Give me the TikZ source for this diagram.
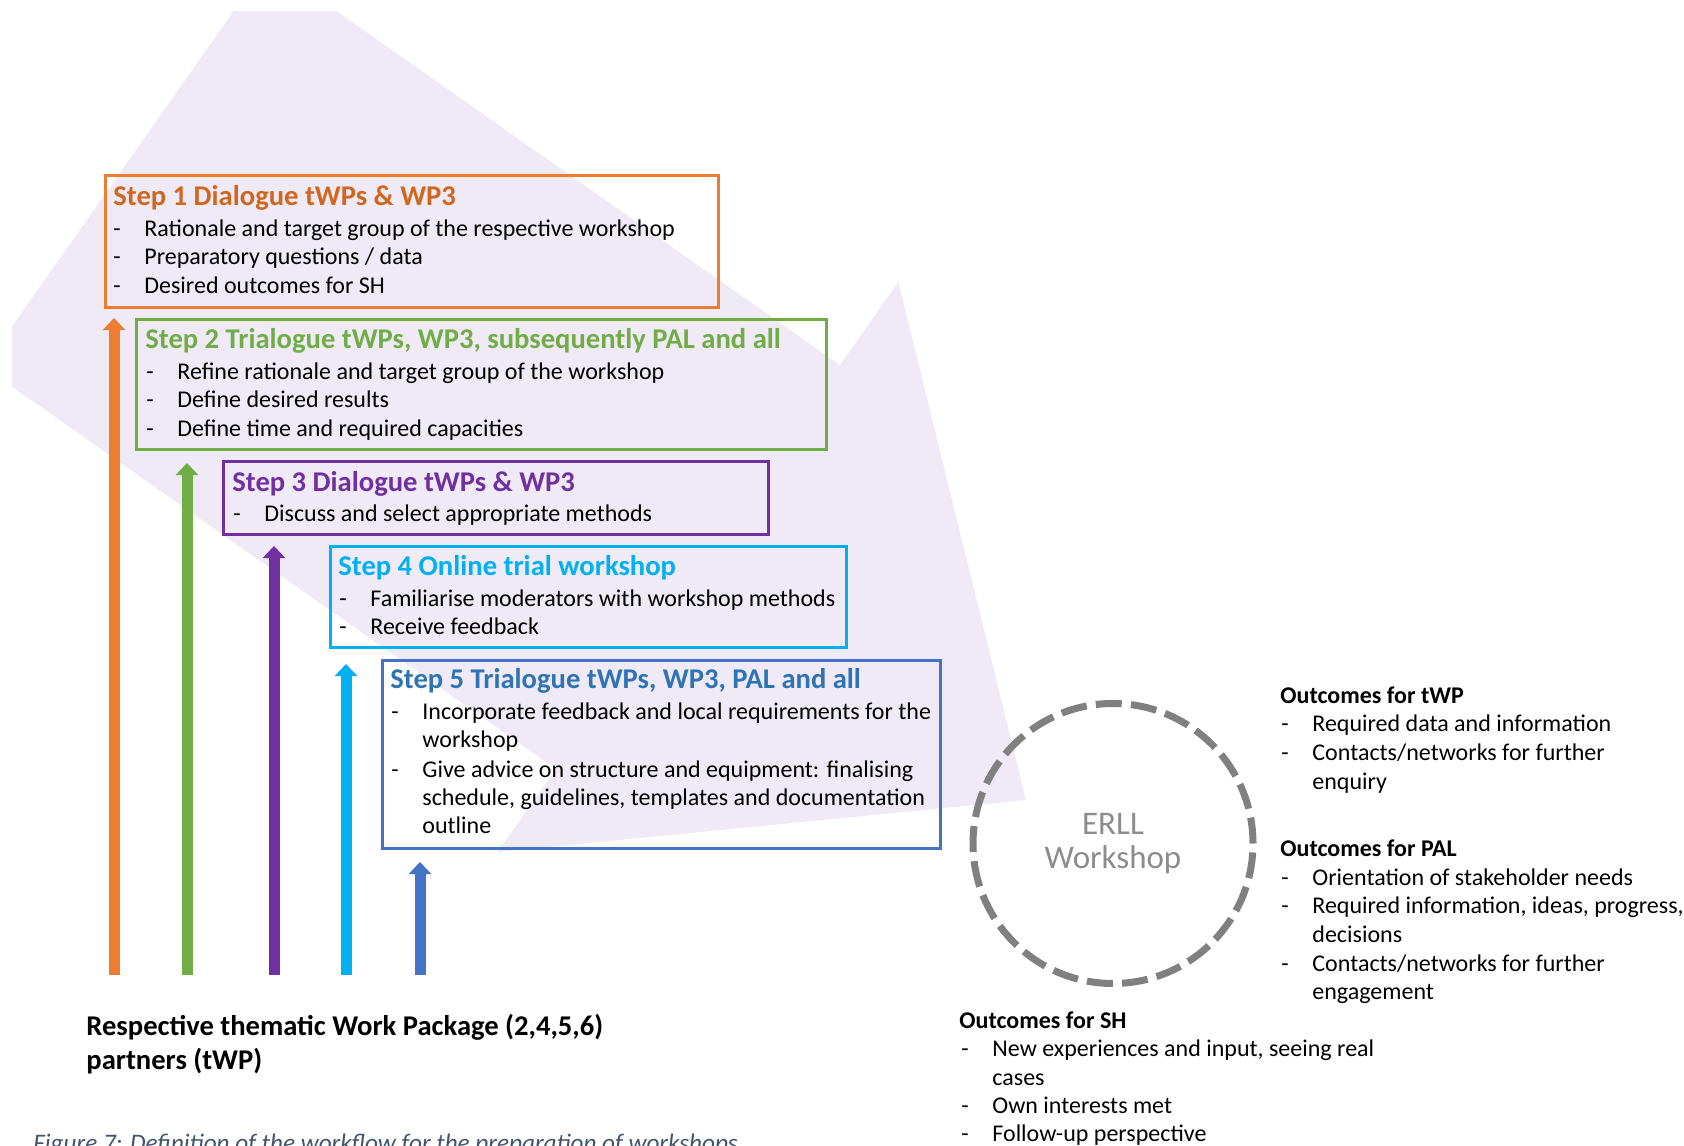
\documentclass[tikz,border=0pt]{standalone}
\usepackage{fontspec}
\setmainfont{Carlito}
\usetikzlibrary{arrows.meta}

\definecolor{cOrange}{HTML}{ED7D31}
\definecolor{cOrangeT}{HTML}{D0671F}
\definecolor{cGreen}{HTML}{70AD47}
\definecolor{cPurple}{HTML}{7030A0}
\definecolor{cCyan}{HTML}{00B0F0}
\definecolor{cBlue}{HTML}{4472C4}
\definecolor{cBlueT}{HTML}{2E74B5}
\definecolor{cLav}{HTML}{EFEAF5}
\definecolor{cRing}{HTML}{808080}
\definecolor{cErll}{HTML}{8C8C8C}
\definecolor{cCap}{HTML}{44546A}

\newcommand{\dashit}{\makebox[15.5pt][l]{-}}

\begin{document}
\begin{tikzpicture}[x=0.5pt, y=-0.5pt,
  stepbox/.style={draw=#1, line width=1.5pt, rectangle, inner sep=0pt, anchor=north west},
  steptitle/.style={text=#1, font=\fontsize{14.3}{17}\selectfont\bfseries, anchor=base west, inner sep=0pt},
  itemtxt/.style={font=\fontsize{12}{14}\selectfont, anchor=base west, inner sep=0pt},
  headtxt/.style={font=\fontsize{12}{14}\selectfont\bfseries, anchor=base west, inner sep=0pt},
  labeltxt/.style={font=\fontsize{14.3}{17}\selectfont\bfseries, anchor=base west, inner sep=0pt},
  uparrow/.style={draw=#1, line width=5.5pt, -{Triangle[width=11pt,length=6pt]}},
]
\useasboundingbox (0,0) rectangle (1684,1145);

% broad background arrow pointing towards the workshop
\begin{scope}
  \clip (12,12) rectangle (1684,1145);
  \fill[cLav] (267.7,-37.4) -- (840,365) -- (898.4,281.9) -- (1026,800)
    -- (497.6,852) -- (556,769) -- (-16.4,366.7) -- cycle;
\end{scope}

% step boxes
\node[stepbox=cOrange, minimum width=306.5pt, minimum height=66pt] (box1) at (104,174) {};
\node[stepbox=cGreen,  minimum width=345pt,   minimum height=65pt] (box2) at (135,318) {};
\node[stepbox=cPurple, minimum width=272.5pt, minimum height=36.5pt] (box3) at (222,460) {};
\node[stepbox=cCyan,   minimum width=258pt,   minimum height=50.5pt] (box4) at (329,545) {};
\node[stepbox=cBlue,   minimum width=279pt,   minimum height=94pt] (box5) at (381,659) {};

% step 1
\node[steptitle=cOrangeT] (t1) at (113,205) {Step 1 Dialogue tWPs \& WP3};
\node[itemtxt] (t1a) at (113,236) {\dashit Rationale and target group of the respective workshop};
\node[itemtxt] (t1b) at (113,264.5) {\dashit Preparatory questions / data};
\node[itemtxt] (t1c) at (113,293) {\dashit Desired outcomes for SH};

% step 2
\node[steptitle=cGreen] (t2) at (145,348) {Step 2 Trialogue tWPs, WP3, subsequently PAL and all};
\node[itemtxt] (t2a) at (146,379) {\dashit Refine rationale and target group of the workshop};
\node[itemtxt] (t2b) at (146,407.5) {\dashit Define desired results};
\node[itemtxt] (t2c) at (146,436) {\dashit Define time and required capacities};

% step 3
\node[steptitle=cPurple] (t3) at (232,491) {Step 3 Dialogue tWPs \& WP3};
\node[itemtxt] (t3a) at (233,521) {\dashit Discuss and select appropriate methods};

% step 4
\node[steptitle=cCyan] (t4) at (338,575) {Step 4 Online trial workshop};
\node[itemtxt] (t4a) at (339,606) {\dashit Familiarise moderators with workshop methods};
\node[itemtxt] (t4b) at (339,634) {\dashit Receive feedback};

% step 5
\node[steptitle=cBlueT] (t5) at (390,688) {Step 5 Trialogue tWPs, WP3, PAL and all};
\node[itemtxt] (t5a) at (391,719) {\dashit Incorporate feedback and local requirements for the};
\node[itemtxt] (t5b) at (422,747) {workshop};
\node[itemtxt] (t5c) at (391,777) {\dashit Give advice on structure and equipment: finalising};
\node[itemtxt] (t5d) at (422,805) {schedule, guidelines, templates and documentation};
\node[itemtxt] (t5e) at (422,833) {outline};

% rising arrows from the thematic work package partners
\coordinate (a1b) at (114,975); \coordinate (a1t) at (114,318);
\coordinate (a2b) at (187,975); \coordinate (a2t) at (187,463);
\coordinate (a3b) at (274,975); \coordinate (a3t) at (274,546);
\coordinate (a4b) at (346,975); \coordinate (a4t) at (346,664);
\coordinate (a5b) at (420,975); \coordinate (a5t) at (420,862);
\draw[uparrow=cOrange] (a1b) -- (a1t);
\draw[uparrow=cGreen]  (a2b) -- (a2t);
\draw[uparrow=cPurple] (a3b) -- (a3t);
\draw[uparrow=cCyan]   (a4b) -- (a4t);
\draw[uparrow=cBlue]   (a5b) -- (a5t);

\node[labeltxt] (lab1) at (86,1035) {Respective thematic Work Package (2,4,5,6)};
\node[labeltxt] (lab2) at (86,1069) {partners (tWP)};

% workshop ring
\node[circle, draw=cRing, line width=3.5pt, dash pattern=on 13pt off 4.6pt,
  minimum size=140pt, inner sep=0pt, text=cErll,
  font=\fontsize{16.5}{17}\selectfont, align=center] (erll) at (1113,843.5) {ERLL\\Workshop};

% outcomes
\node[headtxt] (otwp) at (1280,703) {Outcomes for tWP};
\node[itemtxt] (otwpa) at (1281,731) {\dashit Required data and information};
\node[itemtxt] (otwpb) at (1281,760) {\dashit Contacts/networks for further};
\node[itemtxt] (otwpc) at (1312,789) {enquiry};

\node[headtxt] (opal) at (1280,856) {Outcomes for PAL};
\node[itemtxt] (opala) at (1281,885) {\dashit Orientation of stakeholder needs};
\node[itemtxt] (opalb) at (1281,913) {\dashit Required information, ideas, progress,};
\node[itemtxt] (opalc) at (1312,942) {decisions};
\node[itemtxt] (opald) at (1281,971) {\dashit Contacts/networks for further};
\node[itemtxt] (opale) at (1312,999) {engagement};

\node[headtxt] (osh) at (959,1028) {Outcomes for SH};
\node[itemtxt] (osha) at (961,1056) {\dashit New experiences and input, seeing real};
\node[itemtxt] (oshb) at (992,1085) {cases};
\node[itemtxt] (oshc) at (961,1113) {\dashit Own interests met};
\node[itemtxt] (oshd) at (961,1141) {\dashit Follow-up perspective};

% caption line, cut by the lower page edge
\node[anchor=base west, inner sep=0pt, font=\fontsize{12.6}{15}\selectfont\itshape, text=cCap] (capt)
  at (33,1151) {Figure 7: Definition of the workflow for the preparation of workshops};
\end{tikzpicture}
\end{document}
